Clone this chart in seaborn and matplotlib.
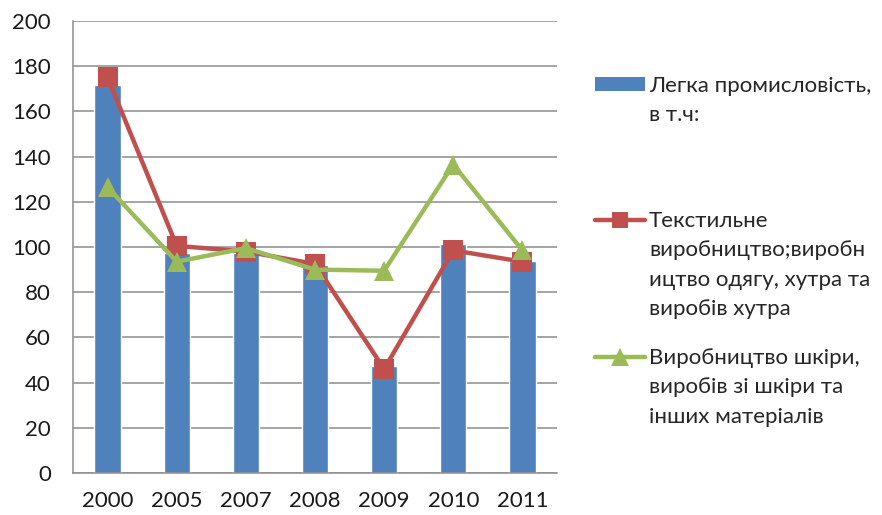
import matplotlib
matplotlib.use("Agg")
import matplotlib.pyplot as plt
import seaborn as sns
from matplotlib.patches import Patch
from matplotlib.lines import Line2D

years = ["2000", "2005", "2007", "2008", "2009", "2010", "2011"]
light_industry = [171.5, 97.5, 97.5, 92.0, 47.5, 101.5, 94.0]
textile = [175.0, 100.5, 98.0, 92.5, 46.0, 98.5, 93.5]
leather = [126.5, 93.5, 99.5, 90.0, 89.5, 136.5, 98.5]

label_light = ["Легка промисловість,", "в т.ч:"]
label_textile = ["Текстильне", "виробництво;виробн", "ицтво одягу, хутра та", "виробів хутра"]
label_leather = ["Виробництво шкіри,", "виробів зі шкіри та", "інших матеріалів"]

blue, red, green = "#4F81BD", "#C0504D", "#9BBB59"
grid_col = "#8C8C8C"

sns.set_style("white")
plt.rcParams["font.family"] = ["Lato", "Open Sans", "DejaVu Sans"]
plt.rcParams["font.size"] = 16

fig = plt.figure(figsize=(8.82, 5.15), dpi=100)
ax = fig.add_axes([73 / 882, 1 - 473 / 515, (557 - 73) / 882, (473 - 21) / 515])

# bars
sns.barplot(x=years, y=light_industry, color=blue, width=0.38, saturation=1, ax=ax, zorder=2)

# lines
sns.pointplot(x=years, y=textile, color=red, markers="s", markersize=14, linewidth=3.2,
              markeredgewidth=0, ax=ax, zorder=3)
sns.pointplot(x=years, y=leather, color=green, markers="^", markersize=15, linewidth=3.2,
              markeredgewidth=0, ax=ax, zorder=4)

ax.set_ylim(0, 200)
ax.set_xlim(-0.5, len(years) - 0.5)
ax.set_yticks(range(0, 201, 20))
ax.yaxis.grid(True, color=grid_col, linewidth=1.1)
ax.set_axisbelow(True)
for s in ["top", "right"]:
    ax.spines[s].set_visible(False)
for s in ["left", "bottom"]:
    ax.spines[s].set_color(grid_col)
    ax.spines[s].set_linewidth(1.1)

ax.set_xticks([i - 0.5 for i in range(len(years) + 1)], minor=True)
ax.tick_params(axis="x", which="major", length=0, pad=13, labelsize=16, labelcolor="#1a1a1a")
ax.tick_params(axis="x", which="minor", length=6, color=grid_col, width=1.1, direction="out")
ax.tick_params(axis="y", length=7, color=grid_col, width=1.1, direction="out", pad=9,
               labelsize=16, labelcolor="#1a1a1a")
ax.set_xlabel("")
ax.set_ylabel("")

# legend, one block per series so the handle sits next to the first text line
blank = Line2D([], [], color="none")
entries = [
    (Patch(facecolor=blue, edgecolor="none"), label_light, 83),
    (Line2D([], [], color=red, marker="s", markersize=12, linewidth=3.2, markeredgewidth=0), label_textile, 218),
    (Line2D([], [], color=green, marker="^", markersize=13, linewidth=3.2, markeredgewidth=0), label_leather, 355),
]
for handle, lines, yline in entries:
    fig.legend(handles=[handle] + [blank] * (len(lines) - 1), labels=lines,
               loc="upper left", bbox_to_anchor=(595 / 882, 1 - (yline - 7) / 515),
               frameon=False, fontsize=16, handlelength=2.25, handleheight=0.6,
               handletextpad=0.18, labelspacing=0.42, borderpad=0, borderaxespad=0)

fig.savefig("out.png", dpi=100)
